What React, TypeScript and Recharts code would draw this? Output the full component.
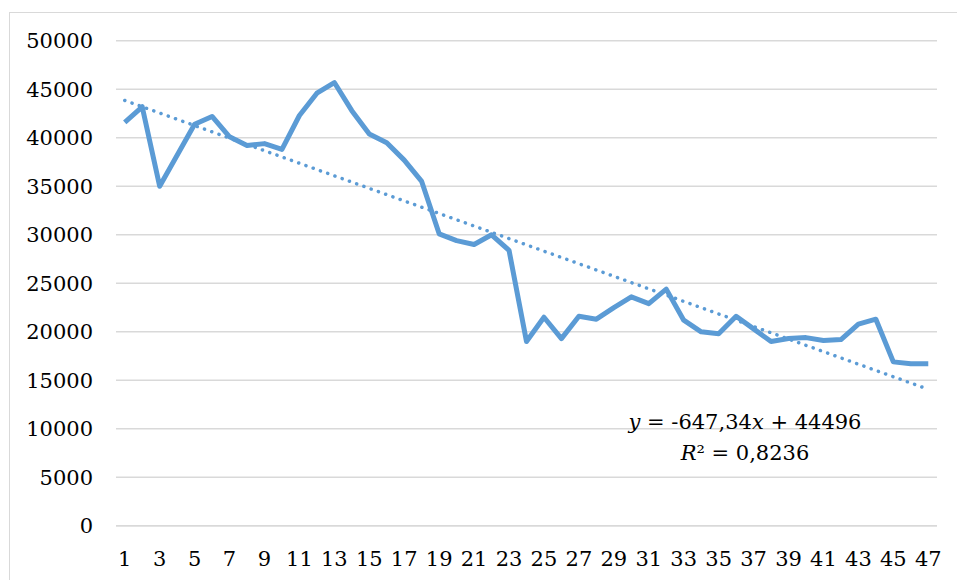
import React from "react";
import { LineChart, Line, XAxis, YAxis, CartesianGrid, ReferenceLine } from "recharts";

const categories: number[] = [
  1, 2, 3, 4, 5, 6, 7, 8, 9, 10, 11, 12, 13, 14, 15, 16, 17, 18, 19, 20, 21, 22, 23, 24,
  25, 26, 27, 28, 29, 30, 31, 32, 33, 34, 35, 36, 37, 38, 39, 40, 41, 42, 43, 44, 45, 46, 47,
];

const values: number[] = [
  41600, 43200, 35000, 38200, 41400, 42200, 40100, 39200, 39400, 38800, 42300, 44600,
  45700, 42800, 40400, 39500, 37700, 35500, 30100, 29400, 29000, 30000, 28400, 19000,
  21500, 19300, 21600, 21300, 22500, 23600, 22900, 24400, 21200, 20000, 19800, 21600,
  20300, 19000, 19300, 19400, 19100, 19200, 20800, 21300, 16900, 16700, 16700,
];

const yTicks: number[] = [0, 5000, 10000, 15000, 20000, 25000, 30000, 35000, 40000, 45000, 50000];

// Trend line shown on the chart: y = -647,34x + 44496
const trendSlope = -647.34;
const trendIntercept = 44496;
const equationText = ["y", " = -647,34", "x", " + 44496"];
const r2Text = "R² = 0,8236";

const data = categories.map((c, i) => ({ x: c, v: values[i] }));
const firstCat = categories[0];
const lastCat = categories[categories.length - 1];

const BLUE = "#5B9BD5";
const GRID = "#D9D9D9";
const FONT = "DejaVu Serif";

export default function App() {
  return (
    <div style={{ position: "fixed", left: 0, top: 0, width: 957, height: 580, background: "#fff", overflow: "hidden", fontFamily: FONT }}>
      <div
        style={{
          position: "absolute",
          left: 9,
          top: 12,
          width: 960,
          height: 600,
          borderTop: `1.5px solid ${GRID}`,
          borderLeft: `1.5px solid ${GRID}`,
          boxSizing: "border-box",
        }}
      />
      <div style={{ position: "absolute", left: 0, top: 0 }}>
        <LineChart
          width={957}
          height={580}
          data={data}
          margin={{ top: 40.8, right: 20, bottom: 14.2, left: 0 }}
          style={{ fontFamily: FONT }}
        >
          <CartesianGrid vertical={false} stroke={GRID} strokeWidth={1.5} />
          <XAxis
            dataKey="x"
            type="category"
            interval={1}
            padding={{ left: 8.73, right: 8.73 }}
            height={40}
            axisLine={{ stroke: GRID, strokeWidth: 1.5 }}
            tickLine={false}
            tickSize={0}
            tickMargin={25}
            tick={{ fill: "#000", fontFamily: FONT, fontSize: 21 }}
          />
          <YAxis
            domain={[0, 50000]}
            ticks={yTicks}
            interval={0}
            width={116}
            axisLine={false}
            tickLine={false}
            tickSize={0}
            tickMargin={23}
            tick={{ fill: "#000", fontFamily: FONT, fontSize: 21 }}
          />
          <Line
            type="linear"
            dataKey="v"
            stroke={BLUE}
            strokeWidth={5}
            strokeLinejoin="round"
            dot={false}
            activeDot={false}
            isAnimationActive={false}
          />
          <ReferenceLine
            segment={[
              { x: firstCat, y: trendIntercept + trendSlope * firstCat },
              { x: lastCat, y: trendIntercept + trendSlope * lastCat },
            ]}
            stroke={BLUE}
            strokeWidth={3.5}
            strokeDasharray="0.1 7.6"
            strokeLinecap="round"
            ifOverflow="visible"
          />
        </LineChart>
      </div>
      <div
        style={{
          position: "absolute",
          left: 600,
          top: 407,
          width: 290,
          textAlign: "center",
          fontFamily: FONT,
          fontSize: 21,
          lineHeight: "31px",
          color: "#000",
          whiteSpace: "nowrap",
        }}
      >
        <div>
          <i>{equationText[0]}</i>
          {equationText[1]}
          <i>{equationText[2]}</i>
          {equationText[3]}
        </div>
        <div>
          <i>R</i>
          {r2Text.slice(1)}
        </div>
      </div>
    </div>
  );
}
